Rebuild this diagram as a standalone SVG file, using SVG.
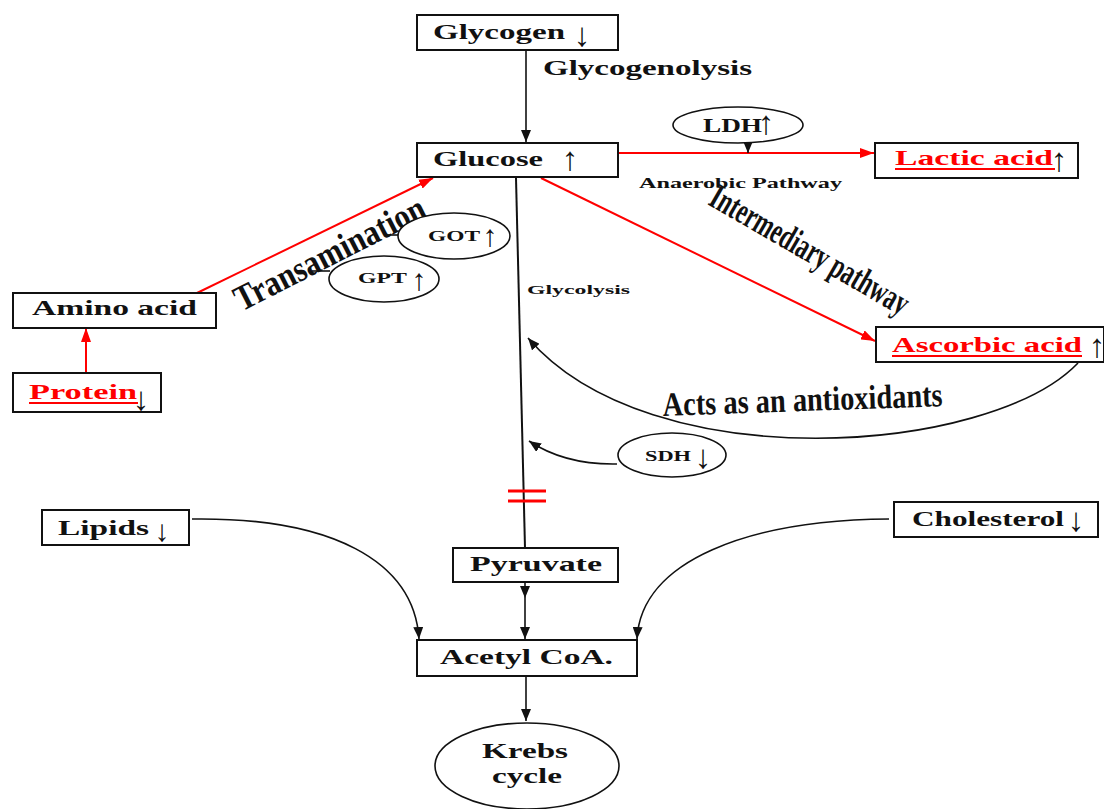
<svg xmlns="http://www.w3.org/2000/svg" width="1104" height="809" viewBox="0 0 1104 809">
<style>
.box{fill:#fff;stroke:#111;stroke-width:2}
.ell{fill:#fff;stroke:#111;stroke-width:1.6}
.t{font-family:'Liberation Serif','Times New Roman',serif;font-weight:bold;fill:#111}
.r{fill:#f00}
.ar{font-family:'Liberation Serif','Times New Roman',serif;font-weight:bold;fill:#111;text-anchor:middle;font-size:33px}
.bl{fill:none;stroke:#111;stroke-width:1.6}
.rl{fill:none;stroke:#f00;stroke-width:2}
</style>
<defs>
<marker id="ah" markerUnits="userSpaceOnUse" markerWidth="12" markerHeight="10" refX="12" refY="5" orient="auto"><path d="M0,0 L12,5 L0,10 z" fill="#111"/></marker>
<marker id="rh" markerUnits="userSpaceOnUse" markerWidth="14" markerHeight="10" refX="14" refY="5" orient="auto"><path d="M0,0 L14,5 L0,10 z" fill="#f00"/></marker>
</defs>
<rect width="1104" height="809" fill="#fff"/>

<g id="connectors">
<path class="bl" d="M526,50 L526,142" marker-end="url(#ah)"/>
<path class="rl" d="M618,153 L874,153" marker-end="url(#rh)"/>
<path class="bl" d="M748,143 L748,153" marker-end="url(#ah)"/>
<path class="rl" d="M541,178 L875,341" marker-end="url(#rh)"/>
<path class="rl" d="M197,293 L433,178" marker-end="url(#rh)"/>
<path class="rl" d="M86,373 L86,328" marker-end="url(#rh)"/>
<path class="bl" d="M516,178 L525,548" style="stroke-width:2"/>
<path class="bl" d="M1078,363 C990,455 650,480 528,338" marker-end="url(#ah)"/>
<path class="bl" d="M617,464 Q565,465 529,441" marker-end="url(#ah)"/>
<path class="bl" d="M384,235 L399,235"/>
<path class="bl" d="M312,271 L330,271"/>
<path class="rl" d="M508,491 L546,491 M508,501 L546,501" style="stroke-width:3"/>
<path class="bl" d="M525,582 L525,598 L525,639" marker-mid="url(#ah)" marker-end="url(#ah)"/>
<path class="bl" d="M192,519 C330,517 414,560 419,639" marker-end="url(#ah)"/>
<path class="bl" d="M889,519 C750,520 641,560 637,639" marker-end="url(#ah)"/>
<path class="bl" d="M526,676 L526,721" marker-end="url(#ah)"/>
</g>

<g id="labels">
<text class="t" x="543" y="75" font-size="22" textLength="209" lengthAdjust="spacingAndGlyphs">Glycogenolysis</text>
<text class="t" x="639" y="188" font-size="14" textLength="203" lengthAdjust="spacingAndGlyphs">Anaerobic Pathway</text>
<text class="t" x="527" y="294" font-size="13" textLength="103" lengthAdjust="spacingAndGlyphs">Glycolysis</text>
<text class="t" transform="translate(804,260) rotate(30)" x="-112" y="0" font-size="36" textLength="224" lengthAdjust="spacingAndGlyphs">Intermediary pathway</text>
<text class="t" transform="translate(335,264) rotate(-27)" x="-105" y="0" font-size="36" textLength="210" lengthAdjust="spacingAndGlyphs">Transamination</text>
<text class="t" transform="translate(803,411) rotate(-2)" x="-140" y="0" font-size="34" textLength="280" lengthAdjust="spacingAndGlyphs">Acts as an antioxidants</text>
</g>

<g id="glycogen">
<rect class="box" x="417" y="15" width="201" height="35"/>
<text class="t" x="433" y="39" font-size="22" textLength="132" lengthAdjust="spacingAndGlyphs">Glycogen</text>
<text class="ar" x="582" y="46">↓</text>
</g>

<g id="glucose">
<rect class="box" x="417" y="143" width="201" height="34"/>
<text class="t" x="433" y="166" font-size="22" textLength="110" lengthAdjust="spacingAndGlyphs">Glucose</text>
<text class="ar" x="570" y="170">↑</text>
</g>

<g id="ldh">
<ellipse class="ell" cx="738" cy="125" rx="65" ry="18"/>
<text class="t" x="703" y="132" font-size="18" textLength="59" lengthAdjust="spacingAndGlyphs">LDH</text>
<text class="ar" x="766" y="134">↑</text>
</g>

<g id="lactic">
<rect class="box" x="875" y="143" width="203" height="35"/>
<text class="t r" x="895" y="165" font-size="22" textLength="158" lengthAdjust="spacingAndGlyphs">Lactic acid</text>
<path d="M895,169 L1055,169" stroke="#f00" stroke-width="2"/>
<text class="ar" x="1059" y="171">↑</text>
</g>

<g id="got">
<ellipse class="ell" cx="454" cy="236" rx="56" ry="23"/>
<text class="t" x="428" y="241" font-size="15" textLength="52" lengthAdjust="spacingAndGlyphs">GOT</text>
<text class="ar" x="490" y="246" style="font-size:30px">↑</text>
</g>

<g id="gpt">
<ellipse class="ell" cx="384" cy="279" rx="55" ry="23"/>
<text class="t" x="358" y="283" font-size="15" textLength="49" lengthAdjust="spacingAndGlyphs">GPT</text>
<text class="ar" x="419" y="290" style="font-size:30px">↑</text>
</g>

<g id="amino">
<rect class="box" x="13" y="293" width="203" height="35"/>
<text class="t" x="32" y="315" font-size="22" textLength="165" lengthAdjust="spacingAndGlyphs">Amino acid</text>
</g>

<g id="protein">
<rect class="box" x="13" y="373" width="148" height="39"/>
<text class="t r" x="29" y="399" font-size="22" textLength="108" lengthAdjust="spacingAndGlyphs">Protein</text>
<path d="M29,403 L138,403" stroke="#f00" stroke-width="2"/>
<text class="ar" x="141" y="410">↓</text>
</g>

<g id="ascorbic">
<rect class="box" x="876" y="327" width="228" height="35"/>
<text class="t r" x="892" y="352" font-size="22" textLength="190" lengthAdjust="spacingAndGlyphs">Ascorbic acid</text>
<path d="M892,356 L1082,356" stroke="#f00" stroke-width="2"/>
<text class="ar" x="1097" y="357">↑</text>
</g>

<g id="sdh">
<ellipse class="ell" cx="672" cy="455" rx="54" ry="22"/>
<text class="t" x="645" y="461" font-size="15" textLength="46" lengthAdjust="spacingAndGlyphs">SDH</text>
<text class="ar" x="703" y="468">↓</text>
</g>

<g id="lipids">
<rect class="box" x="42" y="510" width="147" height="35"/>
<text class="t" x="58" y="535" font-size="22" textLength="91" lengthAdjust="spacingAndGlyphs">Lipids</text>
<text class="ar" x="162" y="541" style="font-size:30px">↓</text>
</g>

<g id="cholesterol">
<rect class="box" x="894" y="502" width="204" height="35"/>
<text class="t" x="912" y="526" font-size="22" textLength="152" lengthAdjust="spacingAndGlyphs">Cholesterol</text>
<text class="ar" x="1076" y="531">↓</text>
</g>

<g id="pyruvate">
<rect class="box" x="453" y="548" width="165" height="34"/>
<text class="t" x="470" y="571" font-size="22" textLength="132" lengthAdjust="spacingAndGlyphs">Pyruvate</text>
</g>

<g id="acetyl">
<rect class="box" x="417" y="640" width="220" height="36"/>
<text class="t" x="440" y="664" font-size="22" textLength="173" lengthAdjust="spacingAndGlyphs">Acetyl CoA.</text>
</g>

<g id="krebs">
<ellipse class="ell" cx="527" cy="766" rx="92" ry="43"/>
<text class="t" x="482" y="758" font-size="22" textLength="86" lengthAdjust="spacingAndGlyphs">Krebs</text>
<text class="t" x="492" y="783" font-size="22" textLength="70" lengthAdjust="spacingAndGlyphs">cycle</text>
</g>
</svg>
